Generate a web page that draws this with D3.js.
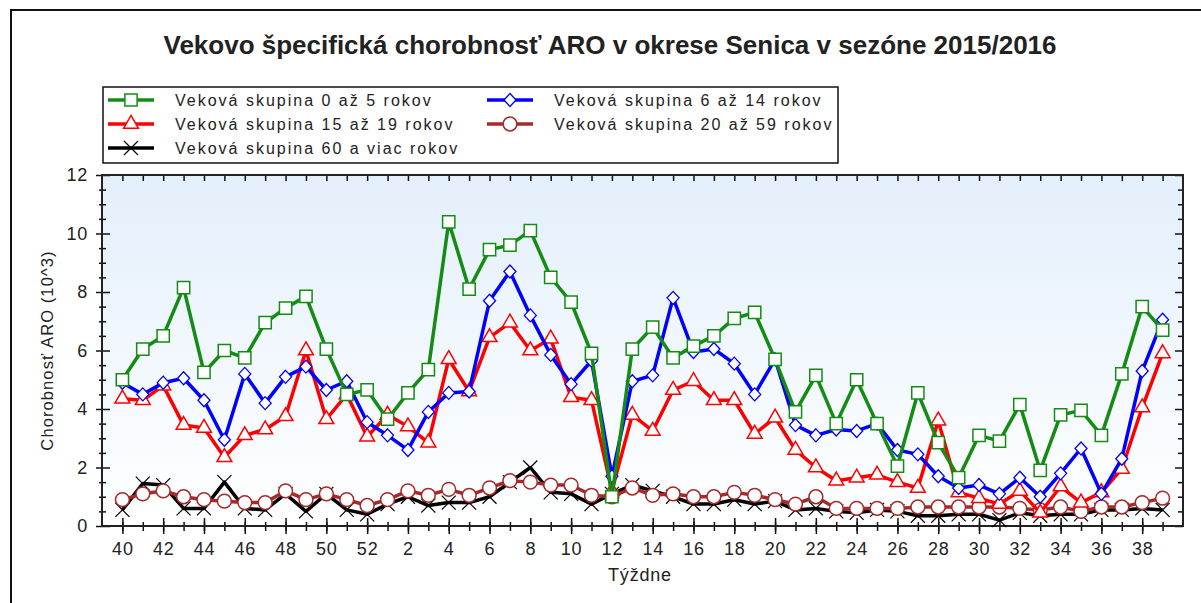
<!DOCTYPE html>
<html>
<head>
<meta charset="utf-8">
<script src="https://cdn.jsdelivr.net/npm/d3@7"></script>
<style>
  body { margin: 0; background: #fff; }
  svg text { font-family: "Liberation Sans", Arial, sans-serif; }
</style>
</head>
<body>
<div class="chart"></div>
<script>
// weeks of the season, 40..52 then 1..39
let weeks = d3.range(40, 53).concat(d3.range(1, 40));

let g0to5 = [5.0, 6.05, 6.5, 8.15, 5.25, 6.0, 5.75, 6.95, 7.45, 7.85, 6.05, 4.5, 4.65,
  3.65, 4.55, 5.35, 10.4, 8.1, 9.45, 9.6, 10.1, 8.5, 7.65,
  5.9, 1.0, 6.05, 6.8, 5.75, 6.15, 6.5, 7.1, 7.3, 5.7,
  3.9, 5.15, 3.5, 5.0, 3.5, 2.05, 4.55, 2.85, 1.65, 3.1,
  2.9, 4.15, 1.9, 3.8, 3.95, 3.1, 5.2, 7.5, 6.7];
let g6to14 = [4.9, 4.5, 4.9, 5.05, 4.3, 2.95, 5.2, 4.2, 5.1, 5.45, 4.65, 4.95, 3.55,
  3.1, 2.6, 3.9, 4.55, 4.6, 7.7, 8.7, 7.2, 5.85, 4.85,
  5.65, 1.7, 4.95, 5.15, 7.8, 5.95, 6.05, 5.55, 4.5, 5.7,
  3.45, 3.1, 3.3, 3.25, 3.5, 2.6, 2.45, 1.7, 1.3, 1.4,
  1.1, 1.65, 1.0, 1.8, 2.65, 1.1, 2.3, 5.3, 7.05];
let g15to19 = [4.35, 4.3, 4.8, 3.45, 3.35, 2.35, 3.1, 3.3, 3.75, 6.0, 3.65, 4.5, 3.05,
  3.8, 3.4, 2.85, 5.7, 4.6, 6.45, 6.95, 6.0, 6.4, 4.4,
  4.3, 1.2, 3.8, 3.25, 4.65, 4.95, 4.3, 4.3, 3.15, 3.7,
  2.6, 2.0, 1.55, 1.65, 1.75, 1.5, 1.3, 3.6, 1.15, 0.95,
  0.75, 1.2, 0.45, 1.35, 0.8, 1.15, 1.95, 4.05, 5.9];
let g20to59 = [0.9, 1.1, 1.2, 1.0, 0.9, 0.85, 0.8, 0.8, 1.2, 0.9, 1.1, 0.9, 0.7,
  0.9, 1.2, 1.05, 1.25, 1.05, 1.3, 1.55, 1.5, 1.4, 1.4,
  1.05, 1.0, 1.3, 1.05, 1.1, 1.0, 1.0, 1.15, 1.05, 0.9,
  0.75, 1.0, 0.6, 0.6, 0.6, 0.6, 0.65, 0.65, 0.65, 0.65,
  0.65, 0.6, 0.55, 0.65, 0.5, 0.65, 0.65, 0.8, 0.95];
let g60plus = [0.55, 1.45, 1.4, 0.6, 0.6, 1.5, 0.6, 0.55, 1.1, 0.5, 1.1, 0.55, 0.4,
  0.75, 1.0, 0.7, 0.8, 0.8, 1.0, 1.5, 2.0, 1.15, 1.1,
  0.75, 1.1, 1.4, 1.2, 1.0, 0.75, 0.75, 0.9, 0.75, 0.85,
  0.55, 0.6, 0.5, 0.45, 0.55, 0.5, 0.35, 0.35, 0.4, 0.4,
  0.2, 0.45, 0.35, 0.4, 0.4, 0.55, 0.55, 0.6, 0.55];

let seriesNames = ["Veková skupina 0 až 5 rokov", "Veková skupina 6 až 14 rokov",
  "Veková skupina 15 až 19 rokov", "Veková skupina 20 až 59 rokov",
  "Veková skupina 60 a viac rokov"];
let yTicks = [0, 2, 4, 6, 8, 10, 12];

let series = [
  {name: seriesNames[0], values: g0to5, color: "#148c14", marker: "square"},
  {name: seriesNames[1], values: g6to14, color: "#0000ff", marker: "diamond"},
  {name: seriesNames[2], values: g15to19, color: "#ff0000", marker: "triangle"},
  {name: seriesNames[3], values: g20to59, color: "#a52a2a", marker: "circle"},
  {name: seriesNames[4], values: g60plus, color: "#000000", marker: "cross"}
];

let width = 1201, height = 603;
let pLeft = 102, pRight = 1183, pTop = 175, pBottom = 526;

let svg = d3.select('.chart').append('svg')
  .attr('width', width)
  .attr('height', height);

let defs = svg.append('defs');
let grad = defs.append('linearGradient')
  .attr('id', 'bg').attr('x1', 0).attr('y1', 0).attr('x2', 0).attr('y2', 1);
grad.append('stop').attr('offset', '0%').attr('stop-color', '#e3effb');
grad.append('stop').attr('offset', '100%').attr('stop-color', '#ffffff');

// outer frame
svg.append('rect')
  .attr('x', 11).attr('y', 10)
  .attr('width', 1210).attr('height', 620)
  .attr('fill', 'none').attr('stroke', '#111').attr('stroke-width', 2);

svg.append('text')
  .attr('x', 610).attr('y', 54)
  .attr('text-anchor', 'middle')
  .style('font-size', '26px').style('font-weight', 'bold').style('fill', '#222')
  .text('Vekovo špecifická chorobnosť ARO v okrese Senica v sezóne 2015/2016');

let x = d3.scaleLinear().domain([-1, 52]).range([pLeft, pRight]);
let y = d3.scaleLinear().domain([0, 12]).range([pBottom, pTop]);

svg.append('rect')
  .attr('x', pLeft).attr('y', pTop)
  .attr('width', pRight - pLeft).attr('height', pBottom - pTop)
  .attr('fill', 'url(#bg)');

// axes
let idx = d3.range(0, weeks.length);
let majorIdx = idx.filter(i => i % 2 === 0);
let minorY = d3.range(0, 12.01, 0.5).filter(v => v % 2 !== 0);

function styleAxis(g) {
  g.select('.domain').remove();
  g.selectAll('line').attr('stroke', '#111').attr('stroke-width', 1.5);
  g.selectAll('text').style('font-size', '18px').style('fill', '#222')
    .style('letter-spacing', '0.8px');
}

// bottom: minor ticks at every week, major crossing ticks with labels
svg.append('g')
  .attr('transform', 'translate(0,' + pBottom + ')')
  .call(d3.axisBottom(x).tickValues(idx).tickSize(5).tickFormat(''))
  .call(styleAxis)
  .selectAll('line').attr('y1', -4);
svg.append('g')
  .attr('transform', 'translate(0,' + pBottom + ')')
  .call(d3.axisBottom(x).tickValues(majorIdx).tickSize(8).tickPadding(8)
    .tickFormat(i => weeks[i]))
  .call(styleAxis)
  .selectAll('line').attr('y1', -8);

// top: ticks pointing into the plot
svg.append('g')
  .attr('transform', 'translate(0,' + pTop + ')')
  .call(d3.axisBottom(x).tickValues(idx).tickSize(6).tickFormat(''))
  .call(styleAxis);

// left
svg.append('g')
  .attr('transform', 'translate(' + pLeft + ',0)')
  .call(d3.axisLeft(y).tickValues(minorY).tickSize(3).tickFormat(''))
  .call(styleAxis)
  .selectAll('line').attr('x1', 4);
svg.append('g')
  .attr('transform', 'translate(' + pLeft + ',0)')
  .call(d3.axisLeft(y).tickValues(yTicks).tickSize(6).tickPadding(8))
  .call(styleAxis)
  .selectAll('line').attr('x1', 8);

// right: ticks inward
svg.append('g')
  .attr('transform', 'translate(' + pRight + ',0)')
  .call(d3.axisLeft(y).tickValues(minorY).tickSize(5).tickFormat(''))
  .call(styleAxis);
svg.append('g')
  .attr('transform', 'translate(' + pRight + ',0)')
  .call(d3.axisLeft(y).tickValues(yTicks).tickSize(8).tickFormat(''))
  .call(styleAxis);

// plot frame
svg.append('rect')
  .attr('x', pLeft).attr('y', pTop)
  .attr('width', pRight - pLeft).attr('height', pBottom - pTop)
  .attr('fill', 'none').attr('stroke', '#222').attr('stroke-width', 2);

svg.append('text')
  .attr('transform', 'translate(53,' + ((pTop + pBottom) / 2) + ') rotate(-90)')
  .attr('text-anchor', 'middle')
  .style('font-size', '16.5px').style('fill', '#222').style('letter-spacing', '1.1px')
  .text('Chorobnosť ARO (10^3)');

svg.append('text')
  .attr('x', 640).attr('y', 581)
  .attr('text-anchor', 'middle')
  .style('font-size', '18px').style('fill', '#222').style('letter-spacing', '0.8px')
  .text('Týždne');

// markers
function drawMarker(g, type, color, cx, cy) {
  if (type === 'cross') {
    g.append('path')
      .attr('d', 'M' + (cx - 7) + ',' + (cy - 7) + 'L' + (cx + 7) + ',' + (cy + 7) +
        'M' + (cx - 7) + ',' + (cy + 7) + 'L' + (cx + 7) + ',' + (cy - 7))
      .attr('stroke', color).attr('stroke-width', 1.2).attr('fill', 'none');
    return;
  }
  if (type === 'diamond') {
    g.append('path')
      .attr('d', 'M0,-6.5L6,0L0,6.5L-6,0Z')
      .attr('transform', 'translate(' + cx + ',' + cy + ')')
      .attr('fill', '#fff').attr('stroke', color).attr('stroke-width', 1.3);
    return;
  }
  let sym = {square: d3.symbolSquare, triangle: d3.symbolTriangle,
    circle: d3.symbolCircle}[type];
  let size = {square: 150, triangle: 95, circle: 150}[type];
  g.append('path')
    .attr('d', d3.symbol().type(sym).size(size)())
    .attr('transform', 'translate(' + cx + ',' + cy + ')')
    .attr('fill', '#fff').attr('stroke', color).attr('stroke-width', 1.5);
}

let line = d3.line()
  .x((d, i) => x(i))
  .y(d => y(d));

let plot = svg.append('g');
series.slice().reverse().forEach(s => {
  let g = plot.append('g');
  g.append('path')
    .datum(s.values)
    .attr('d', line)
    .attr('fill', 'none')
    .attr('stroke', s.color)
    .attr('stroke-width', 3.5)
    .attr('stroke-linejoin', 'round');
  s.values.forEach((v, i) => drawMarker(g, s.marker, s.color, x(i), y(v)));
});

// legend
let legend = svg.append('g');
legend.append('rect')
  .attr('x', 103).attr('y', 87).attr('width', 735).attr('height', 76)
  .attr('fill', '#fff').attr('stroke', '#111').attr('stroke-width', 1.5);
let legendPos = [[108, 100], [487, 100], [108, 124], [487, 124], [108, 148]];
series.forEach((s, i) => {
  let [lx, ly] = legendPos[i];
  let g = legend.append('g');
  g.append('line')
    .attr('x1', lx).attr('x2', lx + 46).attr('y1', ly).attr('y2', ly)
    .attr('stroke', s.color).attr('stroke-width', 3.5);
  drawMarker(g, s.marker, s.color, lx + 23, ly);
  g.append('text')
    .attr('x', lx + 67).attr('y', ly + 6)
    .style('font-size', '16px').style('fill', '#222').style('letter-spacing', '2px')
    .text(s.name);
});
</script>
</body>
</html>
